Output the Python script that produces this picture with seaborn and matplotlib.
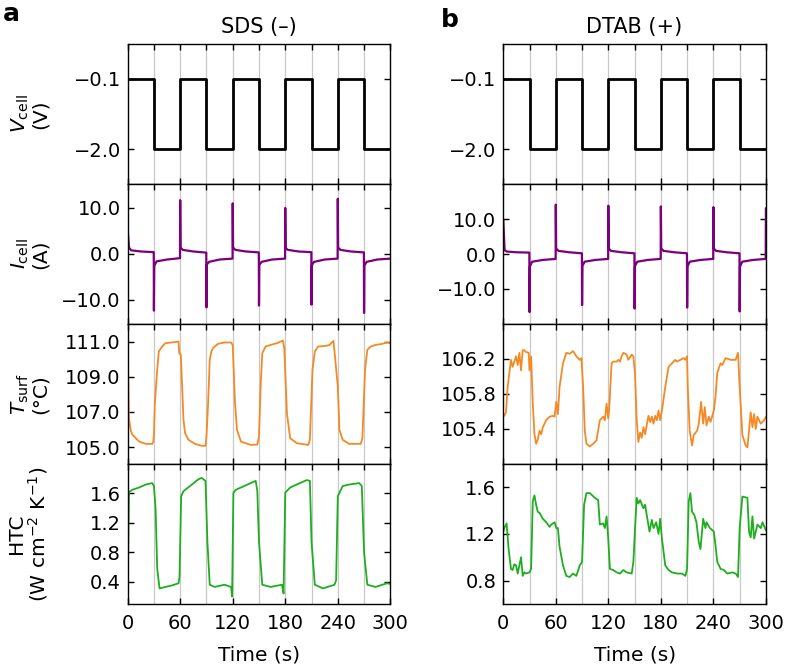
import matplotlib
matplotlib.use("Agg")
import matplotlib.pyplot as plt
import seaborn as sns

# ---- values ----
# cell voltage: level held from each switching time to the next one
STEP_T = [0, 30, 60, 90, 120, 150, 180, 210, 240, 270, 300]
V_SDS = [-0.1, -2.0, -0.1, -2.0, -0.1, -2.0, -0.1, -2.0, -0.1, -2.0, -2.0]
V_DTAB = [-0.1, -2.0, -0.1, -2.0, -0.1, -2.0, -0.1, -2.0, -0.1, -2.0, -2.0]

# cell current (A)
I_T_SDS = [0, 1.5, 4, 15, 29.8, 30, 30.4, 33, 45, 59.8,
           60, 60.4, 63, 75, 89.8, 90, 90.4, 93, 105, 119.8,
           120, 120.4, 123, 135, 149.8, 150, 150.4, 153, 165, 179.8,
           180, 180.4, 183, 195, 209.8, 210, 210.4, 213, 225, 239.8,
           240, 240.4, 243, 255, 269.8, 270, 270.4, 273, 285, 300]
I_SDS = [5.3, 1.3, 0.7, 0.45, 0.3, -12.4, -2.7, -1.7, -1.3, -1.0,
         11.6, 1.3, 0.8, 0.45, 0.2, -11.7, -2.4, -1.8, -1.3, -1.1,
         10.9, 1.3, 0.8, 0.45, 0.25, -11.3, -2.5, -1.8, -1.3, -1.1,
         9.9, 1.2, 0.8, 0.45, 0.3, -11.1, -2.5, -1.8, -1.3, -1.1,
         11.9, 1.3, 0.8, 0.45, 0.25, -12.9, -2.6, -1.8, -1.3, -1.1]
I_T_DTAB = [0, 1.5, 4, 15, 29.8, 30, 30.4, 33, 45, 59.8,
            60, 60.4, 63, 75, 89.8, 90, 90.4, 93, 105, 119.8,
            120, 120.4, 123, 135, 149.8, 150, 150.4, 153, 165, 179.8,
            180, 180.4, 183, 195, 209.8, 210, 210.4, 213, 225, 239.8,
            240, 240.4, 243, 255, 269.8, 270, 270.4, 273, 285, 299.7, 300]
I_DTAB = [9.8, 1.1, 0.7, 0.5, 0.4, -16.6, -3.6, -2.2, -1.7, -1.4,
          14.1, 1.6, 0.9, 0.5, 0.2, -14.6, -3.4, -2.2, -1.7, -1.4,
          13.8, 1.6, 0.9, 0.5, 0.2, -15.6, -3.5, -2.2, -1.7, -1.4,
          13.6, 1.6, 0.9, 0.5, 0.2, -15.3, -3.5, -2.2, -1.7, -1.4,
          13.4, 1.6, 0.9, 0.5, 0.2, -16.4, -3.6, -2.2, -1.7, -1.4, 13.1]

# surface temperature (deg C)
T_T_SDS = [0, 1.5, 3.75, 5.6, 13.1, 20.6, 28.1, 29.25, 30.0, 31.1,
           33.75, 35.6, 39.4, 43.1, 50.6, 58.1, 58.9, 60.75, 63.75, 65.6,
           69.4, 76.9, 84.4, 88.9, 90.0, 91.9, 93.75, 95.6, 97.5, 103.1,
           110.6, 118.1, 120.0, 122.6, 124.9, 129.4, 140.6, 148.1, 150.0, 151.9,
           153.75, 157.5, 163.1, 170.6, 177.4, 178.9, 181.9, 185.6, 193.1, 206.25,
           208.1, 211.1, 213.75, 217.5, 226.9, 230.6, 232.5, 235.1, 236.25, 240.0,
           241.9, 245.6, 253.1, 266.25, 268.1, 271.1, 273.75, 277.5, 283.1, 290.6,
           296.25, 300]
T_SDS = [110.8, 106.6, 105.9, 105.7, 105.32, 105.19, 105.19, 105.3, 105.7, 107.5,
         109.4, 110.44, 110.72, 110.91, 110.95, 111.0, 110.34, 110.25, 106.55, 105.8,
         105.42, 105.19, 105.08, 105.08, 105.61, 107.5, 109.96, 110.44, 110.63, 110.87,
         110.95, 110.95, 110.8, 107.5, 105.98, 105.32, 105.13, 105.15, 105.61, 108.45,
         110.34, 110.72, 110.81, 110.91, 111.06, 110.6, 106.93, 105.51, 105.23, 105.13,
         105.42, 109.39, 110.44, 110.72, 110.76, 110.81, 110.91, 111.04, 110.44, 108.45,
         105.98, 105.42, 105.19, 105.19, 105.51, 109.39, 110.53, 110.72, 110.81, 110.87,
         110.95, 110.9]
T_T_DTAB = [0, 1.1, 3.1, 5.0, 8.8, 10.7, 12.6, 14.6, 16.5, 18.4,
            20.3, 22.2, 24.1, 26.0, 29.1, 29.9, 31.8, 33.7, 35.6, 37.5,
            39.4, 41.4, 43.3, 45.2, 49.0, 52.9, 56.7, 58.6, 60.5, 62.4,
            64.3, 68.2, 72.0, 75.8, 79.7, 83.5, 87.3, 89.2, 91.2, 93.1,
            95.0, 98.8, 102.6, 106.5, 110.3, 114.1, 116.0, 118.0, 119.9, 121.0,
            123.7, 125.6, 129.5, 131.4, 133.3, 135.2, 137.1, 140.9, 142.9, 146.7,
            148.6, 150.5, 152.4, 154.3, 156.3, 158.2, 160.1, 162.0, 165.8, 167.8,
            169.7, 171.6, 173.5, 175.4, 177.3, 179.2, 181.2, 185.0, 188.8, 192.6,
            196.5, 198.4, 202.2, 206.1, 208.0, 209.9, 210.7, 212.9, 215.6, 217.5,
            221.4, 223.3, 226.0, 228.3, 230.2, 232.1, 234.8, 236.7, 240.5, 242.4,
            244.4, 248.2, 250.1, 253.9, 259.7, 265.4, 268.1, 270.0, 273.1, 276.9,
            278.8, 280.7, 282.6, 284.6, 286.5, 288.4, 290.3, 294.1, 298.0, 300]
T_DTAB = [105.56, 105.55, 105.59, 105.88, 106.19, 106.11, 106.17, 106.23, 106.13, 106.27,
          106.07, 106.30, 106.30, 106.28, 106.27, 106.07, 106.23, 105.69, 105.34, 105.23,
          105.28, 105.38, 105.34, 105.42, 105.50, 105.54, 105.55, 105.54, 105.71, 105.57,
          105.88, 106.15, 106.27, 106.26, 106.29, 106.23, 106.19, 106.21, 105.88, 105.38,
          105.23, 105.20, 105.23, 105.27, 105.50, 105.54, 105.50, 105.69, 105.52, 105.63,
          106.15, 106.17, 106.17, 106.19, 106.17, 106.23, 106.27, 106.25, 106.19, 106.25,
          106.23, 106.02, 105.50, 105.25, 105.36, 105.30, 105.42, 105.34, 105.55, 105.48,
          105.54, 105.46, 105.55, 105.50, 105.61, 105.50, 105.61, 105.88, 106.11, 106.15,
          106.19, 106.17, 106.19, 106.21, 106.19, 106.23, 105.88, 105.38, 105.21, 105.33,
          105.38, 105.46, 105.71, 105.46, 105.65, 105.44, 105.54, 105.48, 105.61, 105.77,
          106.04, 106.15, 106.13, 106.21, 106.19, 106.19, 106.27, 105.88, 105.33, 105.21,
          105.19, 105.38, 105.59, 105.42, 105.57, 105.40, 105.54, 105.46, 105.50, 105.54]

# heat transfer coefficient (W cm-2 K-1)
H_T_SDS = [0, 1.5, 5.6, 13.1, 20.6, 28.1, 30.0, 31.9, 33.75,
           36.4, 43.1, 50.6, 58.1, 59.25, 61.1, 63.75, 71.25, 80.6, 84.4,
           88.9, 91.1, 93.75, 99.4, 110.6, 118.1, 119.25, 120.75, 123.75, 133.1,
           140.6, 146.25, 148.1, 150.0, 153.75, 163.1, 176.25, 178.1, 180.0, 185.6,
           193.1, 204.4, 208.1, 210.0, 213.75, 223.1, 236.25, 238.1, 240.0, 245.6,
           253.1, 264.4, 267.4, 270.0, 273.75, 283.1, 296.25, 300]
H_SDS = [0.22, 1.62, 1.65, 1.68, 1.72, 1.74, 1.70, 1.39, 0.58,
         0.31, 0.33, 0.35, 0.38, 0.47, 1.56, 1.63, 1.70, 1.79, 1.81,
         1.77, 0.94, 0.36, 0.33, 0.36, 0.33, 0.20, 1.61, 1.65, 1.70,
         1.74, 1.77, 1.63, 0.94, 0.36, 0.33, 0.36, 0.24, 1.61, 1.68,
         1.72, 1.78, 1.77, 0.94, 0.36, 0.31, 0.36, 0.42, 1.56, 1.70,
         1.72, 1.74, 1.70, 0.80, 0.36, 0.33, 0.38, 0.37]
H_T_DTAB = [0, 1.1, 3.8, 6.1, 8.8, 10.7, 12.6, 14.6, 16.5, 18.4,
            20.3, 22.2, 24.1, 26.0, 29.9, 31.8, 33.7, 35.6, 37.5, 39.4,
            41.4, 45.2, 49.0, 52.9, 54.8, 58.6, 60.5, 62.4, 64.3, 68.2,
            72.0, 75.8, 79.7, 83.5, 87.3, 90.0, 92.3, 95.0, 98.8, 104.5,
            108.4, 110.3, 114.1, 116.0, 118.0, 119.9, 121.8, 125.6, 129.5, 133.3,
            137.1, 140.9, 146.7, 148.6, 150.5, 152.4, 154.3, 156.3, 160.1, 162.0,
            163.9, 167.0, 169.7, 171.6, 174.7, 177.3, 179.2, 181.2, 185.0, 188.8,
            192.6, 198.4, 204.1, 208.0, 209.9, 211.8, 213.7, 215.6, 218.3, 220.6,
            223.3, 225.2, 228.3, 230.9, 232.1, 236.0, 240.5, 242.4, 244.4, 248.2,
            252.0, 255.8, 261.6, 265.4, 268.1, 270.0, 273.1, 278.8, 280.7, 282.6,
            284.6, 286.5, 290.3, 294.1, 296.1, 300]
H_DTAB = [1.22, 1.25, 1.29, 1.07, 0.90, 0.89, 0.94, 0.93, 0.86, 0.93,
          1.00, 0.84, 0.87, 0.86, 0.87, 0.90, 1.48, 1.53, 1.45, 1.39,
          1.38, 1.33, 1.30, 1.26, 1.28, 1.30, 1.25, 1.25, 1.09, 0.93,
          0.84, 0.83, 0.86, 0.84, 0.93, 0.96, 1.45, 1.55, 1.55, 1.51,
          1.49, 1.28, 1.29, 1.25, 1.35, 1.16, 0.90, 0.89, 0.87, 0.86,
          0.89, 0.87, 0.86, 0.96, 1.25, 1.51, 1.46, 1.49, 1.42, 1.45,
          1.36, 1.22, 1.32, 1.25, 1.30, 1.20, 1.33, 1.16, 0.93, 0.89,
          0.87, 0.86, 0.86, 0.84, 0.90, 1.48, 1.55, 1.39, 1.36, 1.30,
          1.13, 1.07, 1.33, 1.25, 1.30, 1.25, 1.22, 1.10, 0.96, 0.90,
          0.89, 0.86, 0.87, 0.86, 0.83, 1.25, 1.52, 1.51, 1.22, 1.17,
          1.35, 1.16, 1.28, 1.25, 1.30, 1.23]

SWITCH_T = [30, 60, 90, 120, 150, 180, 210, 240, 270]
X_MAJOR = [0, 60, 120, 180, 240, 300]
X_MINOR = [30, 90, 150, 210, 270]
X_LABELS = ["0", "60", "120", "180", "240", "300"]

TITLES = ["SDS (\u2013)", "DTAB (+)"]
PANEL_TAGS = ["a", "b"]
Y_LABELS = [r"$V_{\mathrm{cell}}$" + "\n(V)",
            r"$I_{\mathrm{cell}}$" + "\n(A)",
            r"$T_{\mathrm{surf}}$" + "\n(\u00b0C)",
            "HTC\n(W cm$^{-2}$ K$^{-1}$)"]

# per column: (x, y, ylim, yticks) for each row
SDS_ROWS = [
    (STEP_T, V_SDS, (-2.93, 0.83), [-2.0, -0.1]),
    (I_T_SDS, I_SDS, (-15.3, 15.1), [-10.0, 0.0, 10.0]),
    (T_T_SDS, T_SDS, (104.05, 112.0), [105.0, 107.0, 109.0, 111.0]),
    (H_T_SDS, H_SDS, (0.1, 2.0), [0.4, 0.8, 1.2, 1.6]),
]
DTAB_ROWS = [
    (STEP_T, V_DTAB, (-2.93, 0.83), [-2.0, -0.1]),
    (I_T_DTAB, I_DTAB, (-20.0, 20.0), [-10.0, 0.0, 10.0]),
    (T_T_DTAB, T_DTAB, (105.0, 106.6), [105.4, 105.8, 106.2]),
    (H_T_DTAB, H_DTAB, (0.6, 1.8), [0.8, 1.2, 1.6]),
]
COLORS = ["black", "#7c007c", "#f58a24", "#1fae1f"]
WIDTHS = [2.0, 1.6, 1.3, 1.3]


def fmt(v):
    return f"{v:.1f}".replace("-", "\u2212")


sns.set_theme(style="ticks")
plt.rcParams.update({
    "font.family": ["DejaVu Sans"],
    "axes.edgecolor": "black",
    "axes.linewidth": 1.0,
    "xtick.color": "black",
    "ytick.color": "black",
    "text.color": "black",
    "axes.labelcolor": "black",
})

fig, axes = plt.subplots(4, 2, figsize=(7.88, 6.68), dpi=100, sharex=True)
fig.subplots_adjust(left=0.162, right=0.972, top=0.934, bottom=0.096,
                    hspace=0, wspace=0.43)

for col, rows in enumerate([SDS_ROWS, DTAB_ROWS]):
    for r, (xs, ys, ylim, yticks) in enumerate(rows):
        ax = axes[r, col]
        for t in SWITCH_T:
            ax.axvline(t, color="#c8c8c8", lw=0.9, zorder=0)
        extra = {"drawstyle": "steps-post"} if r == 0 else {}
        sns.lineplot(x=xs, y=ys, ax=ax, color=COLORS[r], lw=WIDTHS[r],
                     estimator=None, sort=False, **extra)
        ax.set_xlim(0, 300)
        ax.set_ylim(*ylim)
        ax.set_yticks(yticks)
        ax.set_yticklabels([fmt(v) for v in yticks])
        ax.set_xticks(X_MAJOR)
        ax.set_xticks(X_MINOR, minor=True)
        ax.set_xticklabels(X_LABELS)
        ax.tick_params(axis="both", which="both", direction="in", top=True,
                       right=True, length=4, width=1, labelsize=14)
        # the half-period marks only show on the upper edge of each panel
        ax.tick_params(axis="x", which="minor", bottom=False)
        ax.tick_params(axis="y", pad=5)
        ax.tick_params(axis="x", pad=7)
        ax.set_xlabel("")
        ax.set_ylabel("")
        if col == 0:
            ax.set_ylabel(Y_LABELS[r], fontsize=14.5, linespacing=1.0)
            ax.yaxis.set_label_coords(-0.295, 0.5)
        if r == 0:
            ax.set_title(TITLES[col], fontsize=15, pad=8)
        if r == 3:
            ax.set_xlabel("Time (s)", fontsize=14.5, labelpad=9)

fig.text(0.004, 0.968, PANEL_TAGS[0], fontsize=18, fontweight="bold")
fig.text(0.560, 0.960, PANEL_TAGS[1], fontsize=18, fontweight="bold")

fig.savefig("out.png", dpi=100)
